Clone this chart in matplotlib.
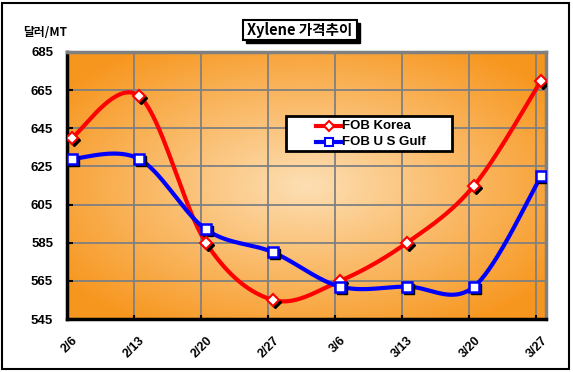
import numpy as np
import matplotlib
matplotlib.use("Agg")
import matplotlib.pyplot as plt
from matplotlib.patches import Rectangle
from matplotlib.lines import Line2D
from matplotlib.transforms import offset_copy

plt.rcParams['font.family'] = ['Liberation Sans', 'Noto Sans CJK KR', 'DejaVu Sans']

dates = ["2/6", "2/13", "2/20", "2/27", "3/6", "3/13", "3/20", "3/27"]
days = [0, 7, 14, 21, 28, 35, 42, 49]
fob_korea = [640, 662, 585, 555, 565, 585, 615, 670]
fob_usgulf = [629, 629, 592, 580, 562, 562, 562, 620]
yticks = [545, 565, 585, 605, 625, 645, 665, 685]
series_names = ["FOB Korea", "FOB U S Gulf"]


def smooth(xs, ys, n=40):
    P = np.column_stack([xs, ys]).astype(float)
    out = []
    m = len(P)
    for i in range(m - 1):
        p0 = P[i - 1] if i > 0 else P[i]
        p1 = P[i]
        p2 = P[i + 1]
        p3 = P[i + 2] if i + 2 < m else P[i + 1]
        c1 = p1 + (p2 - p0) / 6.0
        c2 = p2 - (p3 - p1) / 6.0
        t = np.linspace(0, 1, n)[:, None]
        seg = ((1 - t) ** 3) * p1 + 3 * ((1 - t) ** 2) * t * c1 + 3 * (1 - t) * t ** 2 * c2 + t ** 3 * p2
        out.append(seg if i == 0 else seg[1:])
    s = np.vstack(out)
    return s[:, 0], s[:, 1]


fig = plt.figure(figsize=(5.73, 3.72), dpi=100)
fig.patch.set_facecolor('white')
ax = fig.add_axes([67 / 573, 1 - 319 / 372, (546 - 67) / 573, (319 - 52) / 372])

# radial gradient background
gx, gy = np.meshgrid(np.linspace(-1, 1, 300), np.linspace(-1, 1, 200))
r = np.clip(np.sqrt(gx ** 2 + gy ** 2) / 1.25, 0, 1)
c_in = np.array([0xFD, 0xDF, 0xB4]) / 255
c_out = np.array([0xF7, 0x96, 0x1E]) / 255
img = c_in[None, None, :] * (1 - r[..., None]) + c_out[None, None, :] * r[..., None]
ax.imshow(img, extent=[0, 1, 0, 1], transform=ax.transAxes, aspect='auto', zorder=0)

ax.set_xlim(-0.5, 49.5)
ax.set_ylim(545, 685)
ax.set_yticks(yticks)
ax.set_yticklabels([str(v) for v in yticks], fontsize=9.5, fontweight='bold')
ax.set_xticks(days)
ax.set_xticklabels(dates, rotation=45, ha='right', va='top', fontsize=9, fontweight='bold',
                   rotation_mode='anchor')
ax.set_xticks([d - 0.5 for d in days[1:]], minor=True)
ax.tick_params(axis='x', which='major', length=0, pad=11)
ax.tick_params(axis='x', which='minor', length=3, width=1.5, color='black', direction='in')
ax.tick_params(axis='y', length=4, width=1.5, direction='in', pad=10)
ax.grid(False)
for d in days[1:]:
    ax.axvline(d - 0.5, color='#808080', lw=1.3, zorder=1)
for v in yticks[1:-1]:
    ax.axhline(v, color='#808080', lw=1.3, zorder=1)

for s in ['left', 'bottom']:
    ax.spines[s].set_linewidth(2.5)
    ax.spines[s].set_color('black')
for s in ['top', 'right']:
    ax.spines[s].set_linewidth(2.5)
    ax.spines[s].set_color('#808080')

shadow = offset_copy(ax.transData, fig=fig, x=2, y=-2, units='dots')

sx, sy = smooth(days, fob_korea)
ax.plot(sx, sy, color='#FF0000', lw=3, zorder=3)
ax.plot(days, fob_korea, ls='none', marker='D', ms=6, mfc='black', mec='black', transform=shadow, zorder=3.5)
ax.plot(days, fob_korea, ls='none', marker='D', ms=6, mfc='white', mec='#FF0000', mew=1.5, zorder=4)

sx, sy = smooth(days, fob_usgulf)
ax.plot(sx, sy, color='#0000FF', lw=3, zorder=3)
ax.plot(days, fob_usgulf, ls='none', marker='s', ms=7, mfc='black', mec='black', transform=shadow, zorder=3.5)
ax.plot(days, fob_usgulf, ls='none', marker='s', ms=7, mfc='white', mec='#0000FF', mew=1.8, zorder=4)

# manual legend box
ax.add_patch(Rectangle((0.457, 0.629), 0.347, 0.131, transform=ax.transAxes, facecolor='white',
                       edgecolor='black', lw=2, zorder=10))
leg_rows = [(0.724, '#FF0000', 'D', 5), (0.664, '#0000FF', 's', 6)]
for (yy, col, mk, ms), name in zip(leg_rows, series_names):
    ax.add_line(Line2D([0.52, 0.572], [yy, yy], transform=ax.transAxes, color=col, lw=3, zorder=11))
    ax.add_line(Line2D([0.546], [yy], transform=ax.transAxes, marker=mk, ms=ms, mfc='white', mec=col,
                       mew=1.5, zorder=12))
    ax.text(0.574, yy, name, transform=ax.transAxes, ha='left', va='center', fontsize=9.5,
            fontweight='bold', zorder=12)

# title box with shadow
fig.patches.append(Rectangle((246 / 573, 1 - 43 / 372), 114 / 573, 20 / 372, transform=fig.transFigure,
                             facecolor='black', edgecolor='black', zorder=1))
fig.patches.append(Rectangle((243 / 573, 1 - 40 / 372), 114 / 573, 20 / 372, transform=fig.transFigure,
                             facecolor='white', edgecolor='black', lw=1.5, zorder=2))
fig.text(300 / 573, 1 - 30 / 372, 'Xylene 가격추이', ha='center', va='center', fontsize=10.5,
         fontweight='bold', family=['Noto Sans CJK KR', 'DejaVu Sans'], zorder=3)

fig.text(45 / 573, 1 - 33 / 372, '달러/MT', ha='center', va='center', fontsize=8.5, fontweight='bold',
         family=['Noto Sans CJK KR', 'DejaVu Sans'])

# outer border
fig.patches.append(Rectangle((2 / 573, 3 / 372), 567 / 573, 366 / 372, transform=fig.transFigure,
                             facecolor='none', edgecolor='black', lw=1.5))

fig.savefig('out.png', dpi=100, facecolor='white')
